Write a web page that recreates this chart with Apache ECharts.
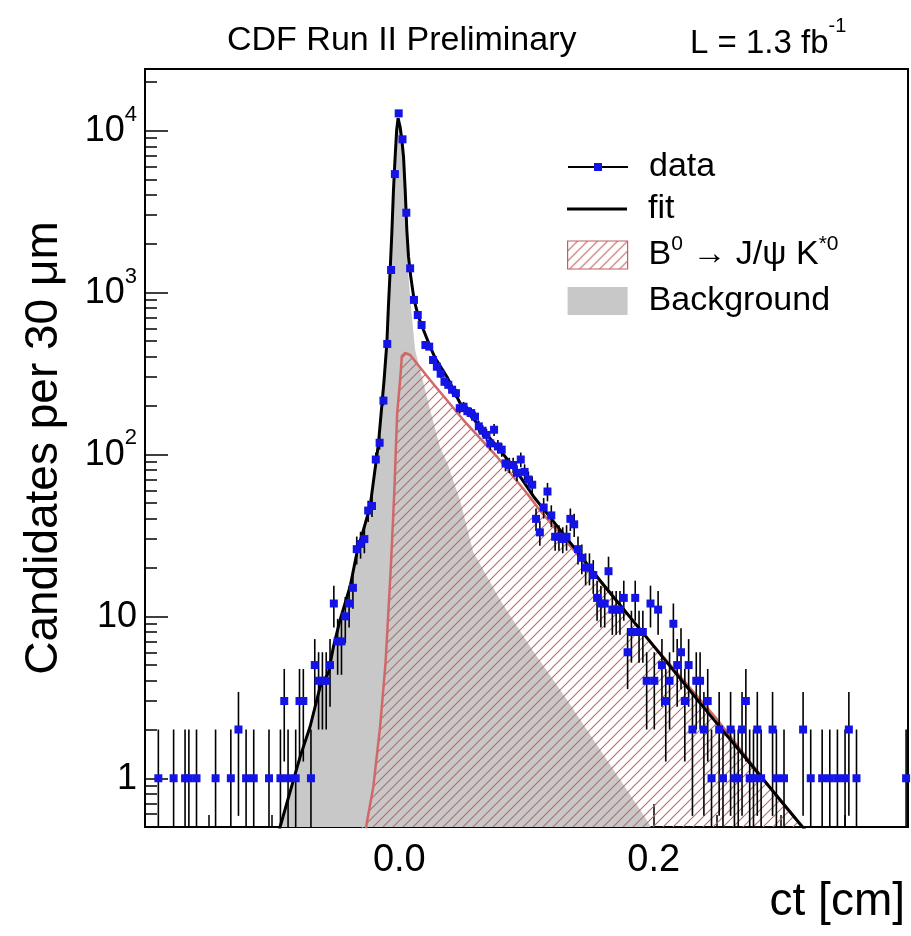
<!DOCTYPE html>
<html><head><meta charset="utf-8">
<script src="https://cdn.jsdelivr.net/npm/echarts@6/dist/echarts.min.js"></script>
<style>html,body{margin:0;padding:0;background:#fff}#c{width:911px;height:936px}</style>
</head><body><div id="c"></div><script>
// ---- data ----
const ctMin = -0.2, ctMax = 0.4, binWidth = 0.003;   // 30 um bins
const binCounts = [
  0,0,0,1,0,0,0,1,0,0,1,1,0,1,0,0,0,0,1,0,
  0,0,1,0,2,0,1,0,1,0,0,0,1,0,0,1,3,1,0,1,
  3,3,0,1,5,4,4,4,5,12,7,7,10,12,15,26,28,30,45,48,
  93,118,215,481,1377,5385,12770,8830,3110,1410,900,726,630,474,463,383,348,315,281,269,
  251,239,193,197,185,180,171,149,140,132,117,142,112,107,88,86,86,77,93,78,
  70,65,40,33,47,59,42,31,31,30,31,40,37,26,23,20,20,18,13,12,
  12,19,11,11,11,13,6,8,13,8,8,4,12,4,11,5,3,4,9,5,
  6,3,5,2,4,4,2,3,1,0,2,1,0,2,1,1,2,3,1,1,
  2,1,0,0,2,1,0,1,0,0,0,0,2,0,1,0,0,1,0,1,
  0,1,0,1,2,0,1,0,0,0,0,0,0,0,0,0,0,0,0,1
];
const fitCt  = [-0.100,-0.0938,-0.078,-0.0702,-0.0623,-0.0558,-0.0518,-0.0466,-0.0387,-0.0334,-0.023,-0.0164,-0.012,-0.0098,-0.0086,-0.0072,-0.0059,-0.0046,-0.0033,-0.0021,-0.001,0.0006,0.002,0.0033,0.0046,0.0059,0.0072,0.009,0.0116,0.015,0.019,0.0242,0.0282,0.0374,0.0478,0.0636,0.0767,0.0897,0.1055,0.116,0.158,0.197,0.2367,0.276,0.3153,0.33];
const fitVal = [0.3,0.5,1.36,2.08,3.67,4.46,6.5,9.5,15.3,24.6,47.6,117,288,488,817,1377,2330,4300,6890,10070,11940,10550,8740,6890,4300,2430,1664,1250,900,709,587,463,393,302,207,148,112,84,55,43.4,16.6,7.0,2.9,1.23,0.52,0.38];
const sigCt  = [-0.030,-0.0256,-0.0204,-0.0151,-0.0108,-0.0067,-0.0039,-0.0017,0.0006,0.002,0.0046,0.0085,0.0242,0.0504,0.0767,0.1003,0.1082,0.15,0.2,0.25,0.3,0.32];
const sigVal = [0.3,0.53,0.89,2.09,5.2,20,60,180,288,405,423,411,288,163,97,57.6,47.6,19.5,6.6,2.3,0.72,0.47];
const bgCt   = [-0.100,-0.0938,-0.078,-0.0702,-0.0623,-0.0558,-0.0518,-0.0466,-0.0387,-0.0334,-0.023,-0.0164,-0.012,-0.0098,-0.0086,-0.0072,-0.0059,-0.0046,-0.0033,-0.0021,-0.001,0.0006,0.002,0.0033,0.0046,0.0059,0.0072,0.009,0.0124,0.0177,0.0242,0.0321,0.0376,0.0478,0.0581,0.0793,0.1029,0.1318,0.1579,0.1789,0.1947,0.205];
const bgVal  = [0.3,0.5,1.36,2.08,3.67,4.46,6.5,9.5,15.3,24.6,47,115,284,480,800,1360,2300,4250,6850,10000,11900,10300,8340,6470,3880,2010,1240,840,442,302,188,110,89,52,25,12.6,6.5,3.05,1.5,0.85,0.55,0.4];
const yMin = 0.5, yMax = 24000;
const yMajorTicks = [1, 10, 100, 1000, 10000];
const yMinorMult = [2, 3, 4, 5, 6, 7, 8, 9];
const xLabels = {'0': '0.0', '0.2': '0.2'};

// ---- build ----
const FONT = '"Liberation Sans", Arial, Helvetica, sans-serif';
const zip = (a, b) => a.map((x, i) => [x, b[i]]);
const pts = [], bars = [];
binCounts.forEach((n, i) => {
  if (n > 0) {
    const ct = ctMin + binWidth * (i + 0.5);
    const e = Math.sqrt(n);
    pts.push([ct, n]);
    bars.push([ct, Math.max(n - e, 0.3), n + e]);
  }
});
const yMinorTicks = [];
for (let k = -1; k <= 4; k++) yMinorMult.forEach(m => {
  const v = m * Math.pow(10, k);
  if (v > yMin && v < yMax) yMinorTicks.push(v);
});

function hatch() {
  const s = 10, c = document.createElement('canvas');
  c.width = s; c.height = s;
  const g = c.getContext('2d');
  g.strokeStyle = '#c06868'; g.lineWidth = 1.1;
  g.beginPath();
  g.moveTo(-2, s + 2); g.lineTo(s + 2, -2);
  g.moveTo(-2, 2); g.lineTo(2, -2);
  g.moveTo(s - 2, s + 2); g.lineTo(s + 2, s - 2);
  g.stroke();
  return { image: c, repeat: 'repeat' };
}
const hatchPat = hatch();

const chart = echarts.init(document.getElementById('c'), null, { renderer: 'canvas', width: 911, height: 936 });
const supRich = {
  b: { fontSize: 36, lineHeight: 46, verticalAlign: 'bottom', fontFamily: FONT, color: '#000' },
  sup: { fontSize: 22, lineHeight: 22, verticalAlign: 'top', fontFamily: FONT, color: '#000' }
};
chart.setOption({
  animation: false,
  backgroundColor: '#fff',
  textStyle: { fontFamily: FONT, color: '#000' },
  title: [
    { text: 'CDF Run II Preliminary', left: 227, top: 24, padding: 0,
      textStyle: { fontSize: 34, fontWeight: 'normal', fontFamily: FONT, color: '#000' } },
    { text: '{b|L = 1.3 fb}{sup|-1}', left: 690, top: 16, padding: 0,
      textStyle: { fontSize: 33, fontWeight: 'normal', fontFamily: FONT, color: '#000',
        rich: { b: { fontSize: 33, lineHeight: 44, verticalAlign: 'bottom', fontFamily: FONT, color: '#000' },
                sup: { fontSize: 20, lineHeight: 20, verticalAlign: 'top', fontFamily: FONT, color: '#000' } } } }
  ],
  grid: { left: 145, top: 69, width: 763, height: 758, show: true, borderColor: '#000', borderWidth: 2, backgroundColor: '#fff' },
  legend: [
    { data: ['data'], left: 567, top: 150, padding: 0, itemWidth: 60, itemHeight: 10, selectedMode: false,
      lineStyle: { color: '#000', width: 2, opacity: 1 },
      textStyle: { fontSize: 34, lineHeight: 34, fontFamily: FONT, color: '#000', padding: [0, 0, 0, 16] } },
    { data: [{ name: 'fit', icon: 'rect' }], left: 567, top: 192, padding: 0, itemWidth: 60, itemHeight: 3, selectedMode: false,
      textStyle: { fontSize: 34, lineHeight: 34, fontFamily: FONT, color: '#000', padding: [0, 0, 0, 16] } },
    { data: [
        { name: 'sig', icon: 'rect', itemStyle: { color: hatchPat, borderColor: '#c06060', borderWidth: 1.2 } },
        { name: 'bg', icon: 'rect', itemStyle: { color: '#c8c8c8', borderWidth: 0 } }
      ],
      orient: 'vertical', left: 567, top: 234, padding: 0, itemWidth: 60, itemHeight: 28, itemGap: 12, selectedMode: false,
      formatter: n => n === 'sig' ? 'B{sup|0} \u2192 J/\u03c8 K{sup|*0}' : 'Background',
      textStyle: { fontSize: 34, lineHeight: 34, fontFamily: FONT, color: '#000', padding: [0, 0, 0, 16],
        rich: { sup: { fontSize: 21, lineHeight: 34, verticalAlign: 'top', padding: [-4, 0, 0, 0], fontFamily: FONT, color: '#000' } } } }
  ],
  xAxis: {
    type: 'value', min: ctMin, max: ctMax, interval: 0.2,
    name: 'ct [cm]', nameLocation: 'end', nameGap: -3,
    nameTextStyle: { fontSize: 46, fontFamily: FONT, color: '#000', align: 'right', verticalAlign: 'top', padding: [52, 0, 0, 0] },
    axisLine: { show: true, onZero: false, lineStyle: { color: '#000', width: 2 } },
    axisTick: { show: true, inside: true, length: 23, lineStyle: { color: '#000', width: 1.5 } },
    minorTick: { show: true, splitNumber: 4, length: 12, lineStyle: { color: '#000', width: 1.5 } },
    splitLine: { show: false },
    axisLabel: { fontSize: 38, fontFamily: FONT, color: '#000', margin: 15,
      formatter: v => xLabels[String(Math.round(v * 10) / 10)] || '' }
  },
  yAxis: [
    {
      type: 'log', logBase: 10, min: yMin, max: yMax, position: 'left',
      name: 'Candidates per 30 \u03bcm', nameLocation: 'middle', nameGap: 78,
      nameTextStyle: { fontSize: 46, fontFamily: FONT, color: '#000' },
      axisLine: { show: true, onZero: false, lineStyle: { color: '#000', width: 2 } },
      axisTick: { show: true, inside: true, length: 23, customValues: yMajorTicks, lineStyle: { color: '#000', width: 1.5 } },
      splitLine: { show: false },
      axisLabel: { customValues: yMajorTicks, margin: 8, padding: [0, 0, 8, 0],
        formatter: v => {
          const e = Math.round(Math.log10(v));
          return e <= 1 ? '{b|' + Math.round(v) + '}' : '{b|10}{sup|' + e + '}';
        },
        rich: supRich }
    },
    {
      type: 'log', logBase: 10, min: yMin, max: yMax, position: 'left',
      axisLine: { show: false, onZero: false }, axisLabel: { show: false }, splitLine: { show: false },
      axisTick: { show: true, inside: true, length: 12, customValues: yMinorTicks, lineStyle: { color: '#000', width: 1.5 } }
    }
  ],
  series: [
    { name: 'bg', type: 'line', data: zip(bgCt, bgVal), symbol: 'none', z: 2,
      color: '#c8c8c8', lineStyle: { width: 0, opacity: 0 },
      areaStyle: { color: '#c8c8c8', opacity: 1, origin: 'start' } },
    { name: 'sig', type: 'line', data: zip(sigCt, sigVal), symbol: 'none', z: 3,
      color: '#cf6464', lineStyle: { color: '#d06868', width: 2.5 },
      areaStyle: { color: hatchPat, opacity: 1, origin: 'start' } },
    { name: 'fit', type: 'line', data: zip(fitCt, fitVal), symbol: 'none', z: 4,
      color: '#000', lineStyle: { color: '#000', width: 3 } },
    { name: 'errors', type: 'custom', data: bars, z: 5, clip: true,
      renderItem: (params, api) => {
        const p1 = api.coord([api.value(0), api.value(1)]);
        const p2 = api.coord([api.value(0), api.value(2)]);
        return { type: 'line', shape: { x1: p1[0], y1: p1[1], x2: p2[0], y2: p2[1] },
                 style: { stroke: '#000', lineWidth: 1.6 } };
      } },
    { name: 'data', type: 'line', data: pts, z: 6, symbol: 'rect', symbolSize: 8, showAllSymbol: true,
      color: '#1414e6', itemStyle: { color: '#1414e6' }, lineStyle: { opacity: 0, width: 0 } }
  ]
});
</script></body></html>
